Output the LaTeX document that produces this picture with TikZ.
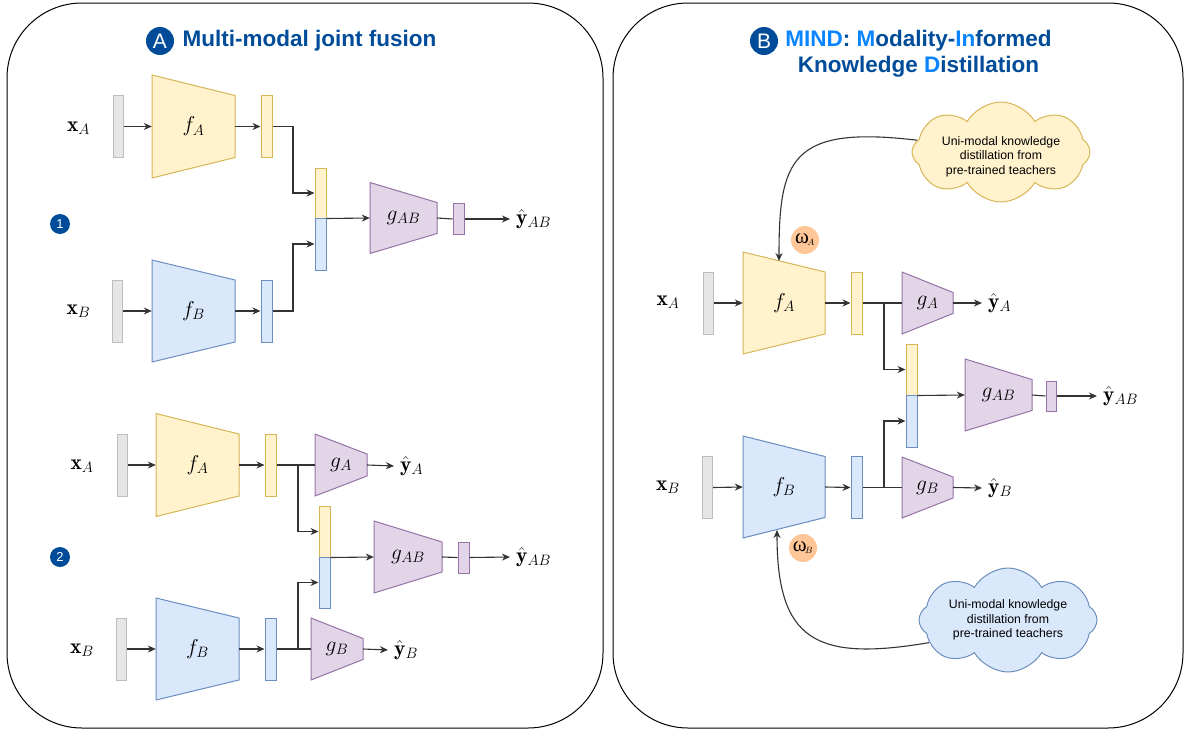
\RequirePackage{fix-cm}
\documentclass[tikz,border=0pt]{standalone}
\usepackage{fontspec}
\newfontfamily\lsans{Liberation Sans}
\newfontfamily\lserif{Liberation Serif}
\usetikzlibrary{arrows.meta,shapes.symbols,calc}
\definecolor{yF}{HTML}{FFF2CC}\definecolor{yS}{HTML}{D6B656}
\definecolor{bF}{HTML}{DAE8FC}\definecolor{bS}{HTML}{6C8EBF}
\definecolor{pF}{HTML}{E1D5E7}\definecolor{pS}{HTML}{9673A6}
\definecolor{gF}{HTML}{E6E6E6}\definecolor{gS}{HTML}{BDBDBD}
\definecolor{tdark}{HTML}{004C99}\definecolor{tlight}{HTML}{0A84FF}
\definecolor{oF}{HTML}{FFC697}
% #1 name, #2 x left, #3 x right, #4 y centre, #5 left height, #6 right height, #7 style, #8 label
\newcommand\mytrap[8]{%
  \filldraw[#7] (#2,{#4-#5/2}) -- (#3,{#4-#6/2}) -- (#3,{#4+#6/2}) -- (#2,{#4+#5/2}) -- cycle;
  \node[inner sep=0pt, minimum width={#3-#2}, minimum height={#6}, font=\fontsize{21.5}{24}\selectfont] (#1) at ({(#2+#3)/2},#4) {#8};
}
\begin{document}
\begin{tikzpicture}[x=1pt,y=-1pt,
  yel/.style={draw=yS, fill=yF, line width=1pt},
  blu/.style={draw=bS, fill=bF, line width=1pt},
  pur/.style={draw=pS, fill=pF, line width=1pt},
  inbar/.style={draw=gS, fill=gF, line width=1pt, inner sep=0pt, minimum width=10, minimum height=62},
  ybar/.style={yel, inner sep=0pt, minimum width=11, minimum height=62},
  bbar/.style={blu, inner sep=0pt, minimum width=11, minimum height=62},
  obar/.style={pur, inner sep=0pt, minimum width=11, minimum height=31},
  conn/.style={draw=black!80, line width=1.1pt},
  arr/.style={conn, -{Stealth[length=8pt,width=7pt]}},
  lab/.style={font=\fontsize{21.5}{24}\selectfont, inner sep=2pt},
  outlab/.style={lab, anchor=west, inner xsep=6pt},
  numc/.style={circle, fill=tdark, text=white, minimum size=20, inner sep=0pt, font=\lsans\fontsize{13}{13}\selectfont},
  titc/.style={circle, fill=tdark, text=white, minimum size=28, inner sep=0pt, font=\lsans\fontsize{21}{21}\selectfont},
  omc/.style={circle, fill=oF, minimum size=28, inner sep=0pt},
  cloudtxt/.style={cloud, cloud puffs=8, cloud puff arc=120, cloud ignores aspect, inner sep=0pt, align=center, line width=1pt, font=\lsans\fontsize{12.3}{14.8}\selectfont}
]
\useasboundingbox (0,0) rectangle (1186,731);
% panels
\draw[line width=1pt, rounded corners=75pt] (7,3) rectangle (603,728);
\draw[line width=1pt, rounded corners=75pt] (613,3) rectangle (1183,728);
% titles
\node[titc] (cirA) at (160,41) {A};
\node[font=\lsans\bfseries\fontsize{22.5}{26}\selectfont, text=tdark] (tA) at (309.5,41) {Multi-modal joint fusion};
\node[titc] (cirB) at (764,41) {B};
\node[align=center, font=\lsans\bfseries\fontsize{22.5}{26}\selectfont, text=tdark] (tB) at (918.5,54) {\textcolor{tlight}{MIND}: \textcolor{tlight}{M}odality-\textcolor{tlight}{In}formed\\Knowledge \textcolor{tlight}{D}istillation};
\node[numc] (n1) at (60,224) {1};
\node[numc] (n2) at (60,557) {2};

% ================= Part 1 =================
\node[lab] (xA1) at (78.5,128) {$\mathbf{x}_A$};
\node[inbar] (iA1) at (118,126.5) {};
\mytrap{fA1}{152}{235}{126.5}{103}{62}{yel}{$f_A$}
\node[ybar] (bA1) at (266.5,126.5) {};
\node[lab] (xB1) at (78.5,311) {$\mathbf{x}_B$};
\node[inbar] (iB1) at (117,311) {};
\mytrap{fB1}{152}{235}{311}{102}{62}{blu}{$f_B$}
\node[bbar] (bB1) at (266.5,311) {};
\node[yel, inner sep=0pt, minimum width=11, minimum height=50] (cat1a) at (320.5,193) {};
\node[blu, inner sep=0pt, minimum width=11, minimum height=52] (cat1b) at (320.5,244) {};
\mytrap{gAB1}{370}{437}{218}{71}{31}{pur}{$g_{AB}$}
\node[obar] (o1) at (458.5,219) {};
\node[outlab] (yAB1) at (510,219) {$\hat{\mathbf{y}}_{AB}$};
\coordinate (k1) at (293,0);
\draw[arr] (iA1.east) -- (fA1.west);
\draw[arr] (fA1.east) -- (bA1.west);
\draw[arr] (iB1.east) -- (fB1.west);
\draw[arr] (fB1.east) -- (bB1.west);
\draw[arr] (bA1.east) -| (k1 |- cat1a.west) -- (cat1a.west);
\draw[arr] (bB1.east) -| (k1 |- cat1b.west) -- (cat1b.west);
\draw[arr] (cat1a.south east) -- (gAB1.west);
\draw[conn] (gAB1.east) -- (o1.west);
\draw[arr] (o1.east) -- (yAB1.west);

% ================= Part 2 =================
\node[lab] (xA2) at (82,466) {$\mathbf{x}_A$};
\node[inbar] (iA2) at (122,465) {};
\mytrap{fA2}{156}{239}{465}{103}{62}{yel}{$f_A$}
\node[ybar] (bA2) at (270.5,465) {};
\mytrap{gA2}{315}{367}{465}{62}{22}{pur}{$g_A$}
\node[outlab] (yA2) at (394,466) {$\hat{\mathbf{y}}_A$};
\node[lab] (xB2) at (82,650) {$\mathbf{x}_B$};
\node[inbar] (iB2) at (121,649) {};
\mytrap{fB2}{156}{239}{649}{102}{62}{blu}{$f_B$}
\node[bbar] (bB2) at (270.5,649) {};
\mytrap{gB2}{311}{363}{649}{62}{21}{pur}{$g_B$}
\node[outlab] (yB2) at (388,650) {$\hat{\mathbf{y}}_B$};
\node[yel, inner sep=0pt, minimum width=11, minimum height=51] (cat2a) at (324.5,531.5) {};
\node[blu, inner sep=0pt, minimum width=11, minimum height=51] (cat2b) at (324.5,582.5) {};
\mytrap{gAB2}{374}{442}{557}{72}{30}{pur}{$g_{AB}$}
\node[obar] (o2) at (463.5,557.5) {};
\node[outlab] (yAB2) at (510,557) {$\hat{\mathbf{y}}_{AB}$};
\coordinate (k2a) at (298,465);
\coordinate (k2b) at (298,649);
\draw[arr] (iA2.east) -- (fA2.west);
\draw[arr] (fA2.east) -- (bA2.west);
\draw[conn] (bA2.east) -- (gA2.west);
\draw[arr] (gA2.east) -- (yA2.west);
\draw[arr] (iB2.east) -- (fB2.west);
\draw[arr] (fB2.east) -- (bB2.west);
\draw[conn] (bB2.east) -- (gB2.west);
\draw[arr] (gB2.east) -- (yB2.west);
\draw[arr] (k2a) |- (cat2a.west);
\draw[arr] (k2b) |- (cat2b.west);
\draw[arr] (cat2a.south east) -- (gAB2.west);
\draw[conn] (gAB2.east) -- (o2.west);
\draw[arr] (o2.east) -- (yAB2.west);

% ================= Panel B =================
\node[lab] (xA3) at (668,302) {$\mathbf{x}_A$};
\node[inbar] (iA3) at (708,303) {};
\mytrap{fA3}{743}{825}{303}{102}{62}{yel}{$f_A$}
\node[ybar] (bA3) at (856.5,303) {};
\mytrap{gA3}{902}{953}{303}{62}{21}{pur}{$g_A$}
\node[outlab] (yA3) at (982,303) {$\hat{\mathbf{y}}_A$};
\node[lab] (xB3) at (668,487) {$\mathbf{x}_B$};
\node[inbar] (iB3) at (707.5,487.5) {};
\mytrap{fB3}{743}{825}{487}{102}{61}{blu}{$f_B$}
\node[bbar] (bB3) at (856.5,487.5) {};
\mytrap{gB3}{902}{953}{487.5}{61}{21}{pur}{$g_B$}
\node[outlab] (yB3) at (982,488) {$\hat{\mathbf{y}}_B$};
\node[yel, inner sep=0pt, minimum width=11, minimum height=51] (cat3a) at (911.5,369.5) {};
\node[blu, inner sep=0pt, minimum width=11, minimum height=52] (cat3b) at (911.5,421) {};
\mytrap{gAB3}{965}{1032}{395}{72}{31}{pur}{$g_{AB}$}
\node[obar, minimum width=10, minimum height=30] (o3) at (1051,396) {};
\node[outlab] (yAB3) at (1097,396) {$\hat{\mathbf{y}}_{AB}$};
\coordinate (k3a) at (884,303);
\coordinate (k3b) at (884,487.5);
\draw[arr] (iA3.east) -- (fA3.west);
\draw[arr] (fA3.east) -- (bA3.west);
\draw[conn] (bA3.east) -- (gA3.west);
\draw[arr] (gA3.east) -- (yA3.west);
\draw[arr] (iB3.east) -- (fB3.west);
\draw[arr] (fB3.east) -- (bB3.west);
\draw[conn] (bB3.east) -- (gB3.west);
\draw[arr] (gB3.east) -- (yB3.west);
\draw[arr] (k3a) |- (cat3a.west);
\draw[arr] (k3b) |- (cat3b.west);
\draw[arr] (cat3a.south east) -- (gAB3.west);
\draw[conn] (gAB3.east) -- (o3.west);
\draw[arr] (o3.east) -- (yAB3.west);

% omegas
\node[omc] (wA) at (805,240) {{\lserif\fontsize{21}{21}\selectfont ω}{\fontsize{13}{13}\selectfont$_{\!A}$}};
\node[omc] (wB) at (803,548) {{\lserif\fontsize{21}{21}\selectfont ω}{\fontsize{13}{13}\selectfont$_{\!B}$}};

% clouds
\node[cloudtxt, draw=yS, fill=yF, minimum width=178, minimum height=100] (cA) at (1001,152) {\raisebox{-5pt}[\height][\depth]{\begin{tabular}{@{}c@{}}Uni-modal knowledge\\distillation from\\pre-trained teachers\end{tabular}}};
\node[cloudtxt, draw=bS, fill=bF, minimum width=178, minimum height=104] (cB) at (1008,620) {Uni-modal knowledge\\distillation from\\pre-trained teachers};
\coordinate (fAtop) at (779,261);
\coordinate (fBbot) at (777,530);
\draw[arr] (cA.172) .. controls (790,125) and (779,160) .. (fAtop);
\draw[arr] (cB.196) .. controls (815,662) and (777,640) .. (fBbot);
\end{tikzpicture}
\end{document}
